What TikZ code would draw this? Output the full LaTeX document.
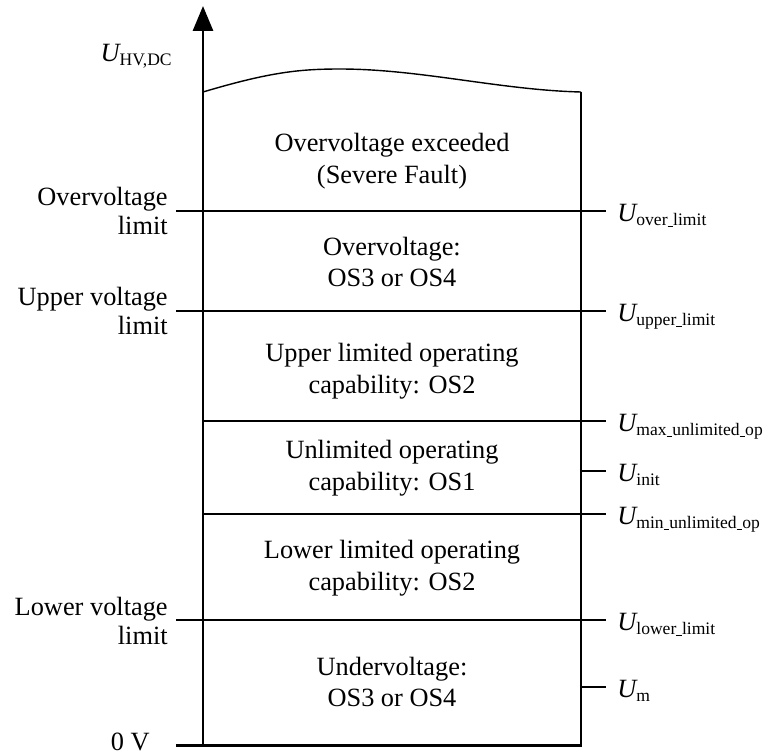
\documentclass[tikz,border=0pt]{standalone}
\usepackage{fontspec}
\setmainfont{Liberation Serif}
\usetikzlibrary{arrows.meta}
\usetikzlibrary{calc}

\newcommand{\ulab}[1]{{\itshape U}\raisebox{-2.3pt}{\fontsize{10}{10}\selectfont #1}}
\newcommand{\usc}{\rule[-1pt]{0.32em}{0.45pt}}

\tikzset{
    region/.style={align=center, font=\fontsize{15}{18}\selectfont},
    leftlab/.style={anchor=east, align=right, inner sep=0pt, font=\fontsize{15}{17}\selectfont},
    rightlab/.style={anchor=base west, inner sep=0pt, font=\fontsize{15}{17}\selectfont}
}

\begin{document}
\begin{tikzpicture}[x=0.02cm, y=-0.02cm]
            \useasboundingbox (0,0) rectangle (768,754);

            % axis and outline
            \draw[black, line width=1.7pt, -{Triangle[length=0.5cm, width=0.4cm]}] (203,745) -- (203,6);
            \draw[black, line width=1.7pt] (176,745) -- (582,745);
            \draw[black, thick] (203,92) .. controls (270,72) and (300,69) .. (340,69)
                                         .. controls (420,69) and (500,90) .. (581,92);
            \draw[black, thick] (581,92) -- (581,745);

            % limits
            \draw[black, thick] (176,211) -- (606,211);
            \draw[black, thick] (176,311) -- (606,311);
            \draw[black, thick] (203,421) -- (606,421);
            \draw[black, thick] (203,514) -- (606,514);
            \draw[black, thick] (176,620) -- (606,620);
            \draw[black, thick] (581,471) -- (606,471);
            \draw[black, thick] (581,687) -- (606,687);

            \node[rightlab, anchor=base east] (uhv) at (172,61) {\ulab{HV,DC}};
            \node[leftlab] (lover) at (168,211) {Overvoltage\\limit};
            \node[leftlab] (lupper) at (168,311) {Upper voltage\\limit};
            \node[leftlab] (llower) at (168,621) {Lower voltage\\limit};
            \node[rightlab, anchor=base east] (lzero) at (150,750) {0 V};

            \node[rightlab] (rover) at (617,221) {\ulab{over\usc limit}};
            \node[rightlab] (rupper) at (617,321) {\ulab{upper\usc limit}};
            \node[rightlab] (rmax) at (617,431) {\ulab{max\usc unlimited\usc op}};
            \node[rightlab] (rinit) at (617,481) {\ulab{init}};
            \node[rightlab] (rmin) at (617,524) {\ulab{min\usc unlimited\usc op}};
            \node[rightlab] (rlower) at (617,630) {\ulab{lower\usc limit}};
            \node[rightlab] (rm) at (617,697) {\ulab{m}};

            \node[region] (sfault) at (392,161) {Overvoltage exceeded\\(Severe Fault)};
            \node[region] (sover) at (392,262) {Overvoltage:\\OS3 or OS4};
            \node[region] (supper) at (392,371) {Upper limited operating\\capability: OS2};
            \node[region] (sunlim) at (392,468) {Unlimited operating\\capability: OS1};
            \node[region] (slower) at (392,568) {Lower limited operating\\capability: OS2};
            \node[region] (sunder) at (392,682) {Undervoltage:\\OS3 or OS4};
        \end{tikzpicture}
\end{document}
